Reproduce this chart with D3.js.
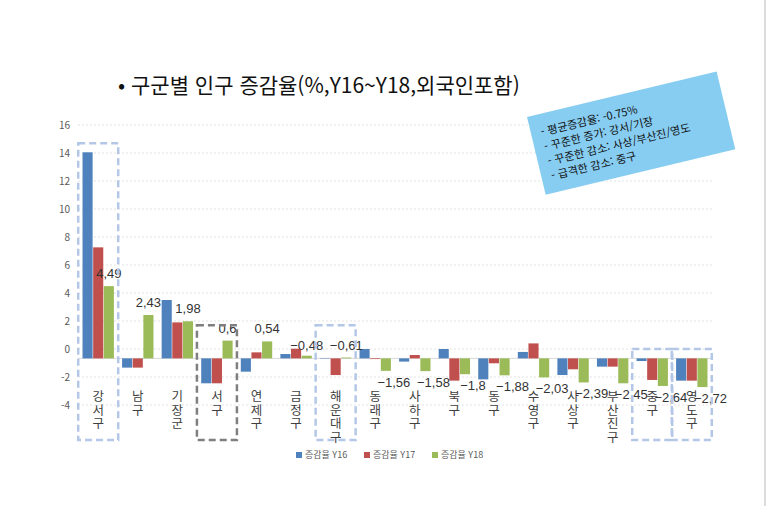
<!DOCTYPE html>
<html lang="ko">
<head>
<meta charset="UTF-8">
<script src="https://d3js.org/d3.v7.min.js"></script>
<style>
  body { margin: 0; background: #fff; font-family: "Noto Sans CJK KR", "Noto Sans", sans-serif; }
</style>
</head>
<body>
<svg id="chart" width="773" height="506"></svg>
<script>
// districts and yearly change rates (%)
const districts = ['강서구','남구','기장군','서구','연제구','금정구','해운대구','동래구','사하구','북구','동구','수영구','사상구','부산진구','중구','영도구']
const y16 = [14.05,-1.33,3.5,-2.45,-1.62,-0.36,-0.64,0.0,-0.9,0.0,-2.17,-0.21,-1.86,-1.26,-0.86,-2.26]
const y17 = [7.26,-1.33,1.9,-2.45,-0.24,0.02,-1.86,-0.72,-0.43,-2.26,-1.02,0.4,-1.45,-1.26,-2.21,-2.26]
const y18 = [4.49,2.43,1.98,0.6,0.54,-0.48,-0.61,-1.56,-1.58,-1.8,-1.88,-2.03,-2.39,-2.45,-2.64,-2.72]
const seriesNames = ['증감율 Y16','증감율 Y17','증감율 Y18']
const yTicks = [16,14,12,10,8,6,4,2,0,-2,-4]
const noteLines = ['- 평균증감율: -0.75%','- 꾸준한 증가: 강서/기장','- 꾸준한 감소: 사상/부산진/영도','- 급격한 감소: 중구']
const boxed = [['강서구',14.7,'#b4c7e7'],['서구',1.7,'#7f7f7f'],['해운대구',1.7,'#b4c7e7'],['중구',0.0,'#b4c7e7'],['영도구',0.0,'#b4c7e7']]

const colors = ['#4f81bd','#c0504d','#9bbb59']
const svg = d3.select('#chart')
const baseVal = -0.67  // category axis crossing

// slide edge
svg.append('line').attr('x1',765).attr('x2',765).attr('y1',0).attr('y2',506).attr('stroke','#d0d0d0').attr('stroke-width',1.5)

const x = d3.scaleBand().domain(districts).range([80, 710]).paddingInner(0.18).paddingOuter(0.05)
const xs = d3.scaleBand().domain([0,1,2]).range([0, x.bandwidth()]).padding(0.05)
const y = d3.scaleLinear().domain([-4,16]).range([405,125])

// grid
svg.append('g').selectAll('line').data(yTicks).join('line')
  .attr('x1',78).attr('x2',712).attr('y1',d=>y(d)).attr('y2',d=>y(d))
  .attr('stroke','#e3e3e3').attr('stroke-dasharray','2,2')
svg.append('g').selectAll('text').data(yTicks).join('text')
  .attr('x',70).attr('y',d=>y(d)+4).attr('text-anchor','end')
  .attr('font-size',10).attr('fill','#595959').text(d=>d)

// baseline
svg.append('line').attr('x1',78).attr('x2',712).attr('y1',y(baseVal)).attr('y2',y(baseVal)).attr('stroke','#d9d9d9')

const series = [y16,y17,y18]
series.forEach((vals,si)=>{
  svg.append('g').selectAll('rect').data(districts).join('rect')
    .attr('x',(d)=>x(d)+xs(si))
    .attr('width',xs.bandwidth())
    .attr('y',(d,i)=>y(Math.max(vals[i],baseVal)))
    .attr('height',(d,i)=>Math.abs(y(vals[i])-y(baseVal)))
    .attr('fill',colors[si])
})

// Y18 labels
svg.append('g').selectAll('text').data(districts).join('text')
  .attr('x',(d,i)=>x(d)+xs(2)+xs.bandwidth()/2 + (y18[i]<baseVal?8:0))
  .attr('y',(d,i)=>y18[i]>=0 ? y(y18[i])-8 : (y18[i]>baseVal? y(baseVal)-8 : y(y18[i])+16))
  .attr('text-anchor','middle').attr('font-size',13).attr('fill','#333')
  .attr('font-family','"Liberation Sans", Arial, sans-serif')
  .text((d,i)=>String(y18[i]).replace('.',',').replace('-','−'))

// category labels, stacked vertically
const cat = svg.append('g')
districts.forEach(d=>{
  const chars = [...d]
  chars.forEach((c,k)=>{
    cat.append('text').attr('x',x(d)+x.bandwidth()/2).attr('y',401+k*13.5)
      .attr('text-anchor','middle').attr('font-size',12.5).attr('fill','#404040').text(c)
  })
})

// dashed highlight boxes
boxed.forEach(([d,top,c])=>{
  const cx = x(d)+x.bandwidth()/2
  svg.append('rect').attr('x',cx-20).attr('width',40)
    .attr('y',y(top)).attr('height',440-y(top))
    .attr('fill','none').attr('stroke',c).attr('stroke-width',2.5).attr('stroke-dasharray','7,4')
})

// title
svg.append('text').attr('x',118).attr('y',93).attr('font-size',21).attr('fill','#111')
  .text('• 구군별 인구 증감율(%,Y16~Y18,외국인포함)')

// sticky note
const note = svg.append('g').attr('transform','translate(527,117) rotate(-13.5)')
note.append('rect').attr('x',0).attr('y',0).attr('width',195).attr('height',80).attr('fill','#87cdf1')
noteLines.forEach((t,i)=>{
  note.append('text').attr('x',10).attr('y',22+i*15).attr('font-size',11).attr('fill','#111').text(t)
})

// legend
const leg = svg.append('g').attr('transform','translate(296,457)')
seriesNames.forEach((n,i)=>{
  const g = leg.append('g').attr('transform',`translate(${i*68},0)`)
  g.append('rect').attr('width',6).attr('height',6).attr('y',-5).attr('fill',colors[i])
  g.append('text').attr('x',9).attr('y',1).attr('font-size',9).attr('fill','#595959').text(n)
})
</script>
</body>
</html>
